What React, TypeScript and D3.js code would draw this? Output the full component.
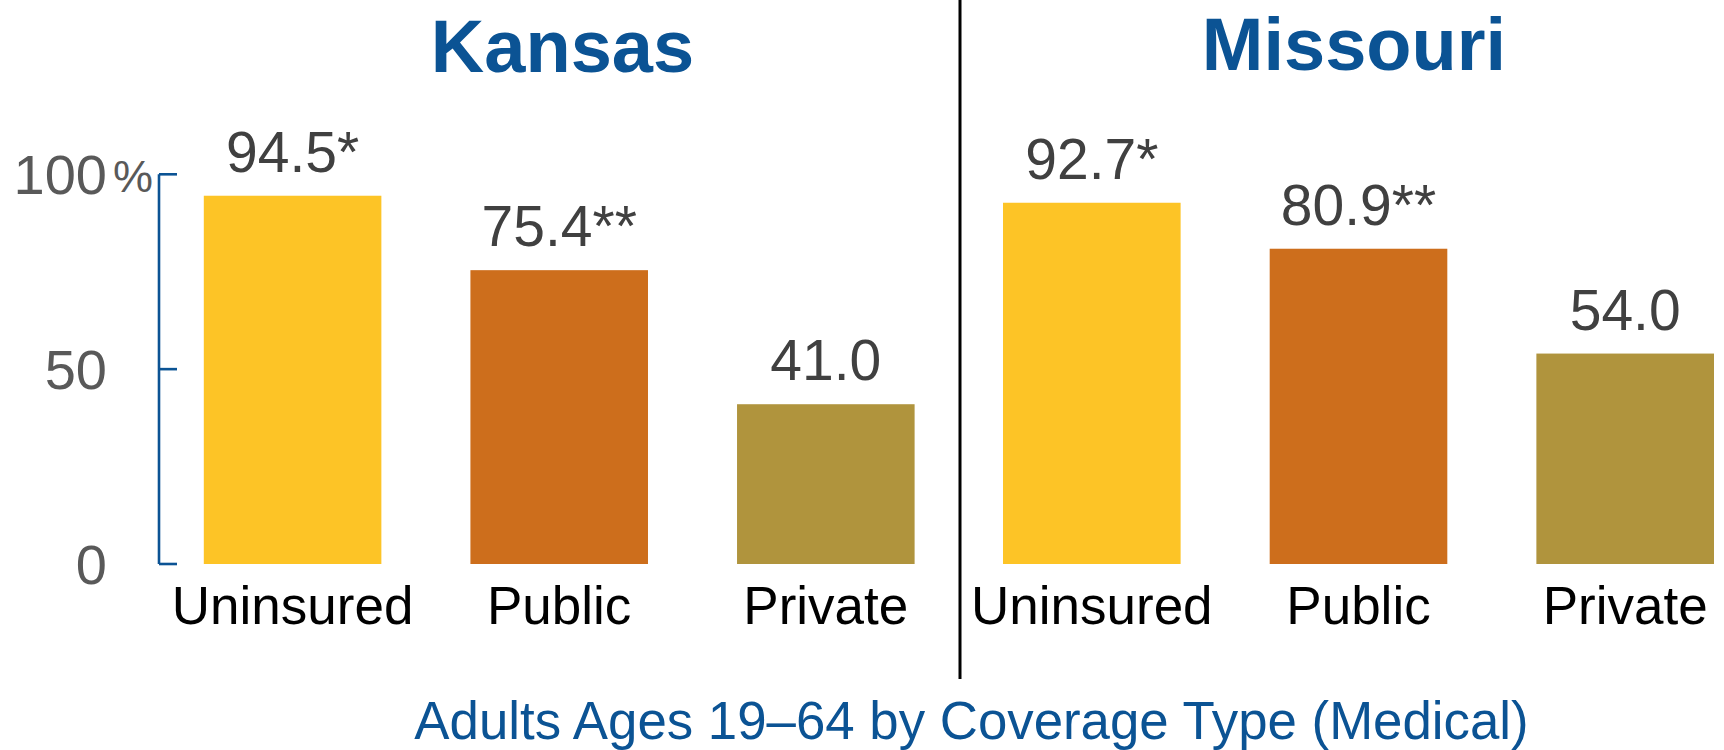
import React from "react";
import * as d3 from "d3";

const categories = ["Uninsured", "Public", "Private"];
const kansasValues = [94.5, 75.4, 41.0];
const missouriValues = [92.7, 80.9, 54.0];
const kansasLabels = ["94.5*", "75.4**", "41.0"];
const missouriLabels = ["92.7*", "80.9**", "54.0"];
const yTicks = [0, 50, 100];
const barColors = ["#FDC426", "#CD6E1C", "#B0943D"];
const titleText = "Adults Ages 19\u201364 by Coverage Type (Medical)";

const W = 1724;
const H = 750;
const BLUE = "#0B5394";
const FONT = "'Liberation Sans', Arial, Helvetica, sans-serif";

const y = d3.scaleLinear().domain([0, 100]).range([564, 174.3]);

const panels = [
  { name: "Kansas", values: kansasValues, labels: kansasLabels, range: [203.8, 914.6], titleX: 562.5, titleY: 72 },
  { name: "Missouri", values: missouriValues, labels: missouriLabels, range: [1003, 1714], titleX: 1354, titleY: 70 },
];

export default function App() {
  return (
    <svg
      width={W}
      height={H}
      viewBox={`0 0 ${W} ${H}`}
      style={{ position: "absolute", left: 0, top: 0, background: "#fff" }}
      fontFamily={FONT}
    >
      <rect x={0} y={0} width={W} height={H} fill="#fff" />
      {/* y axis */}
      <g>
        <line x1={159} x2={159} y1={y(0)} y2={y(100)} stroke={BLUE} strokeWidth={2.6} />
        {yTicks.map((t) => (
          <g key={t}>
            <line x1={159} x2={177} y1={y(t)} y2={y(t)} stroke={BLUE} strokeWidth={2.6} />
            <text x={107} y={y(t) + 19.5} textAnchor="end" fontSize={56} fill="#595959">
              {t}
            </text>
            {t === 100 && (
              <text x={113} y={y(t) + 18} fontSize={45} fill="#595959">
                %
              </text>
            )}
          </g>
        ))}
      </g>
      {panels.map((p) => {
        const x = d3.scaleBand().domain(categories).range(p.range as [number, number]).paddingInner(0.334).paddingOuter(0);
        return (
          <g key={p.name}>
            <text x={p.titleX} y={p.titleY} textAnchor="middle" fontSize={74} fontWeight="bold" fill={BLUE}>
              {p.name}
            </text>
            {categories.map((c, i) => {
              const bx = x(c) as number;
              const bw = x.bandwidth();
              const cx = bx + bw / 2;
              return (
                <g key={c}>
                  <rect x={bx} y={y(p.values[i])} width={bw} height={y(0) - y(p.values[i])} fill={barColors[i]} />
                  <text x={cx} y={y(p.values[i]) - 24} textAnchor="middle" fontSize={57} fill="#404040">
                    {p.labels[i]}
                  </text>
                  <text x={cx} y={624} textAnchor="middle" fontSize={53} fill="#000">
                    {c}
                  </text>
                </g>
              );
            })}
          </g>
        );
      })}
      <line x1={960} x2={960} y1={0} y2={679} stroke="#000" strokeWidth={3} />
      <text x={971.5} y={738.5} textAnchor="middle" fontSize={52.8} fill={BLUE}>
        {titleText}
      </text>
    </svg>
  );
}
